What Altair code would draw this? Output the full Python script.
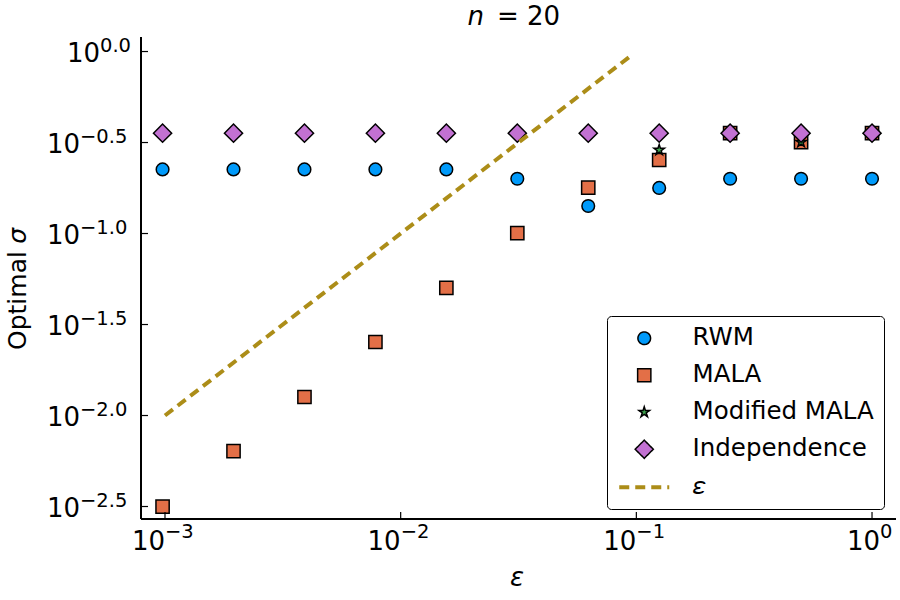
import altair as alt
import pandas as pd

# ---- data ----
eps = [0.0009765625, 0.001953125, 0.00390625, 0.0078125, 0.015625, 0.03125,
       0.0625, 0.125, 0.25, 0.5, 1.0]
rwm = [0.225, 0.225, 0.225, 0.225, 0.225, 0.2, 0.1416, 0.178, 0.2, 0.2, 0.2]
mala = [0.00316, 0.00638, 0.01264, 0.02535, 0.0502, 0.1006, 0.1786, 0.2535,
        0.356, 0.318, 0.356]
mod_mala_eps = [0.125, 0.25, 0.5, 1.0]
mod_mala = [0.2875, 0.356, 0.318, 0.356]
indep = [0.356, 0.356, 0.356, 0.356, 0.356, 0.356, 0.356, 0.356, 0.356, 0.356, 0.356]
line_x = [0.001, 0.097]
line_y = [0.01, 0.97]

series = ["RWM", "MALA", "Modified MALA", "Independence", "ε"]
colors = ["#009AFA", "#E36F47", "#3EA44E", "#C271D2", "#AC8D18"]
edge = ["black", "black", "black", "black", "#AC8D18"]
STAR = ("M0,-1L0.2245,-0.309L0.951,-0.309L0.363,0.118L0.588,0.809L0,0.382"
        "L-0.588,0.809L-0.363,0.118L-0.951,-0.309L-0.2245,-0.309Z")
LINE = "M-2.5,0H2.5"
shapes = ["circle", "square", STAR, "diamond", LINE]
sizes = [160, 175, 120, 330, 400]
widths = [1.5, 1.5, 1.5, 1.5, 4]
dashes = [[1, 0], [1, 0], [1, 0], [1, 0], [10, 6]]

xticks = [0.001, 0.01, 0.1, 1.0]
xexp = ["−3", "−2", "−1", "0"]
yticks = [1.0, 0.316228, 0.1, 0.0316228, 0.01, 0.00316228]
yexp = ["0.0", "−0.5", "−1.0", "−1.5", "−2.0", "−2.5"]
title_var = ["n"]
title_rest = ["= 20"]
ytitle_main = ["Optimal"]
ytitle_sym = ["σ"]
xtitle = ["ε"]

FONT = "DejaVu Sans"
W, H = 755, 482

# ---- tables ----
rows = []
for name, xs, ys in [("RWM", eps, rwm), ("MALA", eps, mala),
                     ("Modified MALA", mod_mala_eps, mod_mala),
                     ("Independence", eps, indep)]:
    for xv, yv in zip(xs, ys):
        rows.append({"eps": xv, "sigma": yv, "series": name})
pts = pd.DataFrame(rows)
pts["order"] = range(len(pts))
line_df = pd.DataFrame({"eps": line_x, "sigma": line_y, "series": ["ε"] * len(line_x)})
xt = pd.DataFrame({"v": xticks, "exp": xexp})
yt = pd.DataFrame({"v": yticks, "exp": yexp})

xscale = alt.Scale(type="log", domain=[0.000791, 1.264], nice=False)
yscale = alt.Scale(type="log", domain=[0.0027, 1.2017], nice=False)

legend = alt.Legend(title=None, orient="none", legendX=466, legendY=279,
                    fillColor="white", strokeColor="black", cornerRadius=4,
                    padding=10, labelFontSize=24.5, labelFont=FONT,
                    labelColor="black", symbolOffset=15, labelOffset=36,
                    labelLimit=400, rowPadding=12,
                    labelExpr="datum.label == 'ε' ? '𝜀' : datum.label")

fill_enc = alt.Fill("series:N", scale=alt.Scale(domain=series, range=colors), legend=legend, sort=series)
stroke_enc = alt.Stroke("series:N", scale=alt.Scale(domain=series, range=edge), legend=legend, sort=series)
shape_enc = alt.Shape("series:N", scale=alt.Scale(domain=series, range=shapes), legend=legend, sort=series)
size_enc = alt.Size("series:N", scale=alt.Scale(type="ordinal", domain=series, range=sizes), legend=legend, sort=series)
sw_enc = alt.StrokeWidth("series:N", scale=alt.Scale(type="ordinal", domain=series, range=widths), legend=legend, sort=series)
dash_enc = alt.StrokeDash("series:N", scale=alt.Scale(domain=series, range=dashes), legend=legend, sort=series)

x_axis = alt.Axis(values=xticks, labels=False, ticks=False, domain=False,
                  grid=True, gridColor="#e6e6e6", gridWidth=1, title=None)
y_axis = alt.Axis(values=yticks, labels=False, ticks=False, domain=False,
                  grid=True, gridColor="#e6e6e6", gridWidth=1, title=None)

points = alt.Chart(pts).mark_point(filled=True, opacity=1).encode(
    x=alt.X("eps:Q", scale=xscale, axis=x_axis),
    y=alt.Y("sigma:Q", scale=yscale, axis=y_axis),
    fill=fill_enc, stroke=stroke_enc, shape=shape_enc, size=size_enc,
    strokeWidth=sw_enc, order=alt.Order("order:Q"),
)

eline = alt.Chart(line_df).mark_line(strokeCap="butt").encode(
    x=alt.X("eps:Q", scale=xscale, axis=None),
    y=alt.Y("sigma:Q", scale=yscale, axis=None),
    stroke=stroke_enc, strokeDash=dash_enc, strokeWidth=sw_enc,
)

# axis lines (left and bottom)
left_axis = alt.Chart(yt).mark_rule(color="black", strokeWidth=1.6).encode(
    x=alt.value(0), y=alt.value(0), y2=alt.value(H))
bottom_axis = alt.Chart(xt).mark_rule(color="black", strokeWidth=1.6).encode(
    y=alt.value(H), x=alt.value(0), x2=alt.value(W))

ytick_marks = alt.Chart(yt).mark_rule(color="black", strokeWidth=1.2).encode(
    y=alt.Y("v:Q", scale=yscale, axis=None), x=alt.value(0), x2=alt.value(7))
xtick_marks = alt.Chart(xt).mark_rule(color="black", strokeWidth=1.2).encode(
    x=alt.X("v:Q", scale=xscale, axis=None), y=alt.value(H), y2=alt.value(H - 7))

def ylabels(test, jx):
    base = alt.Chart(yt).transform_filter(test)
    ten = base.mark_text(align="right", baseline="alphabetic", dy=10, fontSize=26,
                         font=FONT, color="black").encode(
        y=alt.Y("v:Q", scale=yscale, axis=None), x=alt.value(jx), text=alt.value("10"))
    ex = base.mark_text(align="left", baseline="alphabetic", dy=0, fontSize=19.5,
                        font=FONT, color="black").encode(
        y=alt.Y("v:Q", scale=yscale, axis=None), x=alt.value(jx), text="exp:N")
    return [ten, ex]

def xlabels(test, dx):
    base = alt.Chart(xt).transform_filter(test)
    ten = base.mark_text(align="right", baseline="alphabetic", dy=31, dx=dx,
                         fontSize=26, font=FONT, color="black").encode(
        x=alt.X("v:Q", scale=xscale, axis=None), y=alt.value(H), text=alt.value("10"))
    ex = base.mark_text(align="left", baseline="alphabetic", dy=19, dx=dx,
                        fontSize=19.5, font=FONT, color="black").encode(
        x=alt.X("v:Q", scale=xscale, axis=None), y=alt.value(H), text="exp:N")
    return [ten, ex]

labels = (ylabels("datum.exp != '0.0'", -61) + ylabels("datum.exp == '0.0'", -41)
          + xlabels("datum.exp != '0'", 0) + xlabels("datum.exp == '0'", 8))

def txt(vals, **kw):
    return alt.Chart(pd.DataFrame({"t": vals})).mark_text(font=FONT, color="black", **kw)

t1 = txt(title_var, align="right", baseline="alphabetic", fontSize=26,
         fontStyle="italic").encode(x=alt.value(343), y=alt.value(-12), text="t:N")
t2 = txt(title_rest, align="left", baseline="alphabetic", fontSize=26).encode(
    x=alt.value(356), y=alt.value(-12), text="t:N")
yt1 = txt(ytitle_main, align="left", baseline="alphabetic", fontSize=25, angle=270).encode(
    x=alt.value(-115), y=alt.value(313), text="t:N")
yt2 = txt(ytitle_sym, align="right", baseline="alphabetic", fontSize=25, angle=270,
          fontStyle="italic").encode(x=alt.value(-115), y=alt.value(191), text="t:N")
xt1 = txt(xtitle, align="center", baseline="alphabetic", fontSize=26,
          fontStyle="italic").encode(x=alt.value(376), y=alt.value(549), text="t:N")

chart = alt.layer(points, left_axis, bottom_axis, ytick_marks, xtick_marks, eline,
                  *labels, t1, t2, yt1, yt2, xt1).properties(
    width=W, height=H,
    autosize=alt.AutoSizeParams(type="none"),
    padding={"left": 141, "top": 37, "right": 4, "bottom": 81},
).configure(font=FONT).configure_view(stroke=None)

chart.save("out.html", embed_options={"renderer": "svg", "actions": False})
